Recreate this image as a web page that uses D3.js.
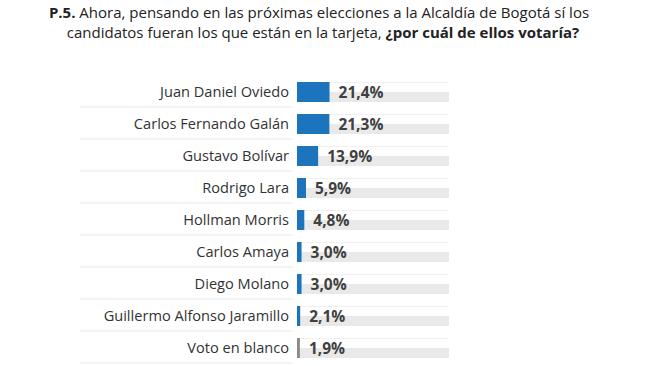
<!DOCTYPE html>
<html><head><meta charset="utf-8">
<script src="https://cdn.jsdelivr.net/npm/d3@7"></script>
<style>body{margin:0;background:#fff}svg{display:block}</style>
</head><body>
<svg id="c" width="652" height="366"></svg>
<script>
const categories = ["Juan Daniel Oviedo","Carlos Fernando Galán","Gustavo Bolívar","Rodrigo Lara","Hollman Morris","Carlos Amaya","Diego Molano","Guillermo Alfonso Jaramillo","Voto en blanco"];
const values = [21.4,21.3,13.9,5.9,4.8,3.0,3.0,2.1,1.9];
const valueLabels = ["21,4%","21,3%","13,9%","5,9%","4,8%","3,0%","3,0%","2,1%","1,9%"];
const titleLine1 = ["P.5.", " Ahora, pensando en las próximas elecciones a la Alcaldía de Bogotá sí los"];
const titleLine2 = ["candidatos fueran los que están en la tarjeta, ", "¿por cuál de ellos votaría?"];

const svg = d3.select("#c");
const font = "'Open Sans', sans-serif";

const x = d3.scaleLinear().domain([0,100]).range([297,449]);
const y = d3.scaleBand().domain(categories).range([76,364]).paddingInner(0.375).paddingOuter(0.1875);

// title
const t1 = svg.append("text").attr("x",319).attr("y",18).attr("text-anchor","middle")
  .attr("font-family",font).attr("font-size",15).attr("fill","#222");
t1.append("tspan").attr("font-weight","bold").text(titleLine1[0]);
t1.append("tspan").text(titleLine1[1]);
const t2 = svg.append("text").attr("x",323).attr("y",38).attr("text-anchor","middle")
  .attr("font-family",font).attr("font-size",15).attr("fill","#222");
t2.append("tspan").text(titleLine2[0]);
t2.append("tspan").attr("font-weight","bold").text(titleLine2[1]);

const step = y.step();
const rows = svg.append("g").selectAll("g").data(categories).join("g");

// separators
rows.append("line")
  .attr("x1",80).attr("x2",292)
  .attr("y1",d=>y(d)+y.bandwidth()+ (step-y.bandwidth())/2 - 1)
  .attr("y2",d=>y(d)+y.bandwidth()+ (step-y.bandwidth())/2 - 1)
  .attr("stroke","#e8e8e8").attr("stroke-width",1.2);

// track top line
rows.append("line")
  .attr("x1",x(0)).attr("x2",x(100))
  .attr("y1",d=>y(d)+0.5).attr("y2",d=>y(d)+0.5)
  .attr("stroke","#f0f0f0").attr("stroke-width",1);

// track
rows.append("rect")
  .attr("x",x(0)).attr("width",x(100)-x(0))
  .attr("y",d=>y(d)+y.bandwidth()/2).attr("height",y.bandwidth()/2)
  .attr("fill","#e9e9e9");

// bars
rows.append("rect")
  .attr("x",x(0))
  .attr("width",(d,i)=>x(values[i])-x(0))
  .attr("y",d=>y(d)).attr("height",y.bandwidth())
  .attr("fill",(d,i)=> i===categories.length-1 ? "#8a8a8a" : "#1c75bc");

// category labels
rows.append("text")
  .attr("x",289).attr("y",d=>y(d)+y.bandwidth()/2)
  .attr("dy","0.35em").attr("text-anchor","end")
  .attr("font-family",font).attr("font-size",14.6).attr("fill","#333")
  .text(d=>d);

// value labels
rows.append("text")
  .attr("x",(d,i)=>x(values[i])+9).attr("y",d=>y(d)+y.bandwidth()/2)
  .attr("dy","0.36em")
  .attr("font-family",font).attr("font-size",15.5).attr("font-weight","bold").attr("fill","#404040")
  .text((d,i)=>valueLabels[i]);
</script>
</body></html>
